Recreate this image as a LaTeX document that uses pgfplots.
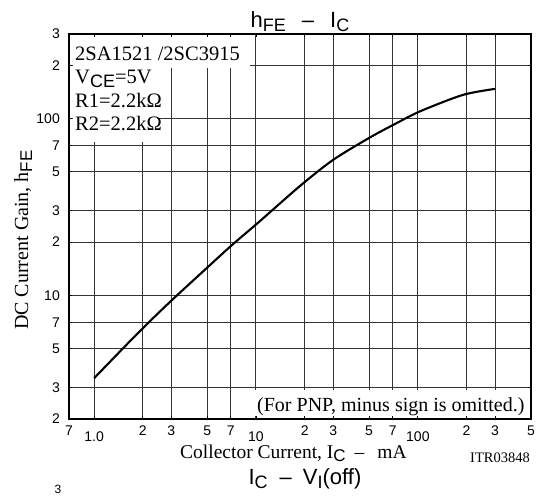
\documentclass[border=0pt]{standalone}
\usepackage{fontspec}
\setmainfont{Liberation Serif}
\newfontfamily\arial{Liberation Sans}
\usepackage{pgfplots}
\pgfplotsset{compat=1.18}
\newcommand{\fs}[1]{\fontsize{#1}{#1}\selectfont}
\newcommand{\sub}[3]{\raisebox{#1}{\arial\fontsize{#2}{#2}\selectfont #3}}
\newcommand{\dec}[1]{\raisebox{-6bp}{#1}}
\begin{document}
\begin{tikzpicture}
\begin{scope}[x=1bp,y=-1bp]
\path[use as bounding box] (0,0) rectangle (536,496);
\end{scope}
\begin{axis}[
 at={(69bp,-34bp)}, anchor=north west,
 width=462bp, height=385bp, scale only axis,
 xmode=log, ymode=log, xmin=0.7, xmax=500, ymin=2, ymax=300,
 xtick={0.7,1,2,3,5,7,10,20,30,50,70,100,200,300,500},
 xticklabels={7,\dec{1.0},2,3,5,7,\dec{10},2,3,5,7,\dec{100},2,3,5},
 ytick={2,3,5,7,10,20,30,50,70,100,200,300},
 yticklabels={2,3,5,7,10,2,3,5,7,100,2,3},
 xminorticks=false, yminorticks=false,
 grid=major, major grid style={black!80, line width=1bp},
 tick align=inside, major tick length=3bp, tick style={black, line width=0.9bp},
 axis line style={black, line width=1.1bp},
 xticklabel style={font=\arial\fs{14bp}, anchor=base, inner sep=0pt, yshift=-16bp},
 yticklabel style={font=\arial\fs{14bp}, anchor=east, inner sep=0pt, xshift=-9bp},
 /pgf/number format/assume math mode=true,
]
\addplot[black, line width=2.1bp, smooth] coordinates {
 (1.0,3.4) (1.87,6.13) (2.94,9.17) (4.98,14.3) (7.11,19.25) (10.44,26)
 (18.7,41.5) (29.9,58.2) (49.9,77.5) (72.2,93.0) (104.5,110.2) (190,135.8) (299,146.8)
};
\end{axis}
\begin{scope}[x=1bp,y=-1bp]
\fill[white] (72.5,37.5) rectangle (250,68);
\fill[white] (72.5,68) rectangle (157,142);
\fill[white] (245,389.5) rectangle (527.5,415.5);
\node[anchor=base west, inner sep=0pt, font=\fs{20.5bp}] at (75,61) {2SA1521 /2SC3915};
\node[anchor=base west, inner sep=0pt, font=\fs{20.5bp}] at (75,84) {V\sub{-4bp}{18bp}{CE}=5V};
\node[anchor=base west, inner sep=0pt, font=\fs{20.5bp}] at (75,108) {R1=2.2kΩ};
\node[anchor=base west, inner sep=0pt, font=\fs{20.5bp}] at (75,131) {R2=2.2kΩ};
\node[anchor=base west, inner sep=0pt, font=\fs{20bp}] at (257,411) {(For PNP, minus sign is omitted.)};
\node[anchor=base, inner sep=0pt, font=\arial\fs{22bp}] at (300,28) {h\sub{-4bp}{18bp}{FE}\hspace{16bp}–\hspace{16bp}I\sub{-4bp}{18bp}{C}};
\node[anchor=base, inner sep=0pt, font=\arial\fs{22bp}] at (305,484) {I\sub{-4bp}{18bp}{C}\hspace{12bp}–\hspace{11bp}V\sub{-4bp}{18bp}{I}(off)};
\node[anchor=base west, inner sep=0pt, font=\fs{19.5bp}] at (180,458) {Collector Current, I\sub{-3.5bp}{17bp}{C}\hspace{9bp}–\hspace{13bp}mA};
\node[anchor=base east, inner sep=0pt, font=\fs{14.5bp}] at (530,462) {ITR03848};
\node[rotate=90, anchor=base west, inner sep=0pt, font=\fs{20bp}] at (28,330) {DC Current Gain, h\sub{-4bp}{17bp}{FE}};
\node[anchor=north, inner sep=0pt, font=\arial\fs{12bp}] at (58,485) {3};
\end{scope}
\end{tikzpicture}
\end{document}
